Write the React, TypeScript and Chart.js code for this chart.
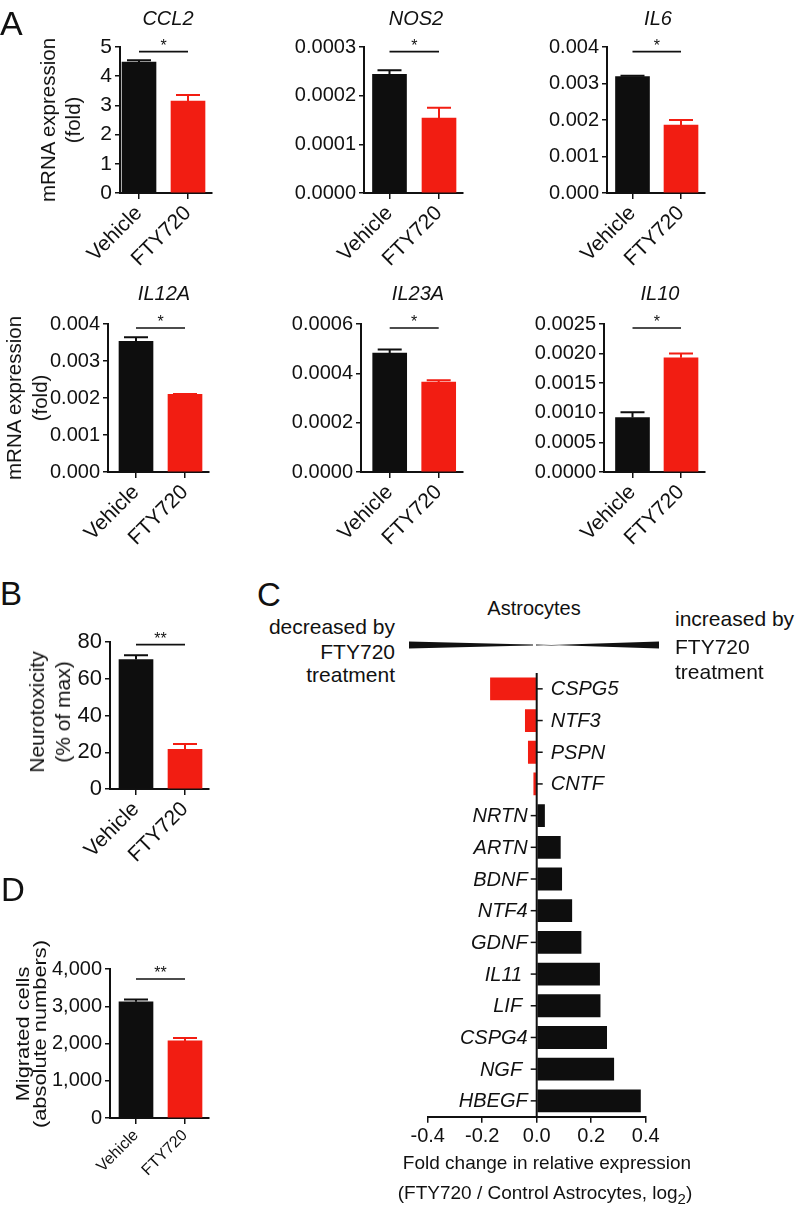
import React, { useEffect, useRef } from "react";
import { Chart, registerables } from "chart.js";
Chart.register(...registerables);

const FONT = "'Liberation Sans', Arial, Helvetica, sans-serif";
const INK = "#111111";
const BLACK = "#0e0e0e";
const RED = "#f21d12";
const COLORS = [BLACK, RED];

const GROUPS = ["Vehicle", "FTY720"];

// Panel A
const CCL2_MEAN = [4.48, 3.15];
const CCL2_SEM = [0.07, 0.21];
const CCL2_TICKS = [0, 1, 2, 3, 4, 5];
const NOS2_MEAN = [0.000244, 0.000154];
const NOS2_SEM = [0.000008, 0.000021];
const NOS2_TICKS = [0, 0.0001, 0.0002, 0.0003];
const IL6_MEAN = [0.00319, 0.00186];
const IL6_SEM = [0.00002, 0.00014];
const IL6_TICKS = [0, 0.001, 0.002, 0.003, 0.004];
const IL12A_MEAN = [0.00353, 0.0021];
const IL12A_SEM = [0.00011, 0.00001];
const IL12A_TICKS = [0, 0.001, 0.002, 0.003, 0.004];
const IL23A_MEAN = [0.000482, 0.000365];
const IL23A_SEM = [0.000015, 0.000007];
const IL23A_TICKS = [0, 0.0002, 0.0004, 0.0006];
const IL10_MEAN = [0.00092, 0.00193];
const IL10_SEM = [0.00009, 0.00007];
const IL10_TICKS = [0, 0.0005, 0.001, 0.0015, 0.002, 0.0025];
// Panel B
const NEURO_MEAN = [70.5, 21.6];
const NEURO_SEM = [2.3, 2.9];
const NEURO_TICKS = [0, 20, 40, 60, 80];
// Panel D
const MIGR_MEAN = [3118, 2070];
const MIGR_SEM = [65, 80];
const MIGR_TICKS = [0, 1000, 2000, 3000, 4000];
// Panel C
const GENES = ["CSPG5", "NTF3", "PSPN", "CNTF", "NRTN", "ARTN", "BDNF", "NTF4", "GDNF", "IL11 ", "LIF ", "CSPG4", "NGF ", "HBEGF"];
const LOG2FC = [-0.171, -0.043, -0.032, -0.012, 0.03, 0.088, 0.093, 0.13, 0.164, 0.232, 0.234, 0.258, 0.284, 0.382];
const FC_TICKS = [-0.4, -0.2, 0, 0.2, 0.4];

type BarProps = {
  axisX: number; right: number; topY: number; zeroY: number; c0: number; c1: number;
  means: number[]; sems: number[]; ticks: number[]; fmt: (v: number) => string;
  sig: string; sigFrac: number; xFont: number; tickFont?: number;
};

function SmallBar(p: BarProps) {
  const ref = useRef<HTMLCanvasElement>(null);
  const YW = 110, PT = 28, XH = 95, PR = 14;
  const left = p.axisX - YW;
  const top = p.topY - PT;
  const width = Math.round(YW + (p.right - p.axisX) + PR);
  const height = Math.round(PT + (p.zeroY - p.topY) + XH);
  useEffect(() => {
    const unit = p.c1 - p.c0;
    const xmin = -(p.c0 - p.axisX) / unit;
    const xmax = 1 + (p.right - p.c1) / unit;
    const ymax = p.ticks[p.ticks.length - 1];
    const plugin = {
      id: "errs",
      afterDatasetsDraw(chart: any) {
        const ctx = chart.ctx;
        const ys = chart.scales.y;
        const meta = chart.getDatasetMeta(0);
        ctx.save();
        meta.data.forEach((bar: any, i: number) => {
          const yt = ys.getPixelForValue(p.means[i] + p.sems[i]);
          ctx.strokeStyle = COLORS[i];
          ctx.lineWidth = 2;
          ctx.beginPath();
          ctx.moveTo(bar.x, bar.y);
          ctx.lineTo(bar.x, yt);
          ctx.moveTo(bar.x - 12, yt);
          ctx.lineTo(bar.x + 12, yt);
          ctx.stroke();
        });
        const ly = ys.getPixelForValue(ymax * p.sigFrac);
        const x0 = meta.data[0].x, x1 = meta.data[1].x;
        ctx.strokeStyle = INK;
        ctx.lineWidth = 1.6;
        ctx.beginPath();
        ctx.moveTo(x0, ly);
        ctx.lineTo(x1, ly);
        ctx.stroke();
        ctx.fillStyle = INK;
        ctx.font = `16px ${FONT}`;
        ctx.textAlign = "center";
        ctx.textBaseline = "alphabetic";
        ctx.fillText(p.sig, (x0 + x1) / 2, ly - 0.5);
        ctx.restore();
      },
    };
    const chart = new Chart(ref.current as HTMLCanvasElement, {
      type: "bar",
      data: {
        datasets: [{
          data: p.means.map((m, i) => ({ x: i, y: m })),
          backgroundColor: COLORS,
          borderWidth: 0,
          barThickness: 34,
        }],
      } as any,
      options: {
        responsive: false,
        animation: false,
        devicePixelRatio: 1,
        layout: { padding: { top: PT, right: PR, left: 0, bottom: 0 } },
        plugins: { legend: { display: false }, tooltip: { enabled: false } },
        scales: {
          x: {
            type: "linear", min: xmin, max: xmax, offset: false,
            grid: { display: true, drawOnChartArea: false, drawTicks: true, tickLength: 6, color: INK, lineWidth: 1.5, offset: false },
            border: { display: true, color: INK, width: 2 },
            afterBuildTicks: (s: any) => { s.ticks = GROUPS.map((_, i) => ({ value: i })); },
            afterFit: (s: any) => { s.height = XH; },
            ticks: {
              autoSkip: false, minRotation: 45, maxRotation: 45, color: INK,
              font: { family: FONT, size: p.xFont }, padding: 2,
              callback: (_v: any, i: number) => GROUPS[i],
            },
          },
          y: {
            type: "linear", min: 0, max: ymax,
            grid: { display: true, drawOnChartArea: false, drawTicks: true, tickLength: 5, color: INK, lineWidth: 1.5 },
            border: { display: true, color: INK, width: 2 },
            afterBuildTicks: (s: any) => { s.ticks = p.ticks.map((v) => ({ value: v })); },
            afterFit: (s: any) => { s.width = YW; },
            ticks: {
              autoSkip: false, color: INK, font: { family: FONT, size: p.tickFont ?? 20 }, padding: 3,
              callback: (v: any) => p.fmt(Number(v)),
            },
          },
        },
      } as any,
      plugins: [plugin],
    });
    return () => chart.destroy();
  }, []);
  return <canvas ref={ref} width={width} height={height} style={{ position: "absolute", left, top, width, height }} />;
}

function FoldChart() {
  const ref = useRef<HTMLCanvasElement>(null);
  const L = 400, T = 663, W = 290, H = 494;
  const areaLeft = 427.7 - L, areaRight = 645.7 - L, areaTop = 673 - T, areaBottom = 1116.7 - T;
  useEffect(() => {
    const plugin = {
      id: "centerAxis",
      afterDatasetsDraw(chart: any) {
        const ctx = chart.ctx;
        const xs = chart.scales.x, ys = chart.scales.y, ca = chart.chartArea;
        const x0 = xs.getPixelForValue(0);
        ctx.save();
        ctx.strokeStyle = INK;
        ctx.lineWidth = 2;
        ctx.beginPath();
        ctx.moveTo(x0, ca.top);
        ctx.lineTo(x0, ca.bottom);
        ctx.stroke();
        ctx.lineWidth = 1.5;
        ctx.font = `italic 20px ${FONT}`;
        ctx.fillStyle = INK;
        ctx.textBaseline = "middle";
        GENES.forEach((g, i) => {
          const y = ys.getPixelForValue(i);
          const neg = LOG2FC[i] < 0;
          ctx.beginPath();
          if (neg) { ctx.moveTo(x0, y); ctx.lineTo(x0 + 6, y); } else { ctx.moveTo(x0 - 6, y); ctx.lineTo(x0, y); }
          ctx.stroke();
          ctx.textAlign = neg ? "left" : "right";
          ctx.fillText(g, neg ? x0 + 14 : x0 - 9, y + 1);
        });
        ctx.restore();
      },
    };
    const chart = new Chart(ref.current as HTMLCanvasElement, {
      type: "bar",
      data: {
        labels: GENES,
        datasets: [{
          data: LOG2FC,
          backgroundColor: LOG2FC.map((v) => (v < 0 ? RED : BLACK)),
          borderWidth: 0,
          barPercentage: 0.72,
          categoryPercentage: 1,
        }],
      },
      options: {
        indexAxis: "y",
        responsive: false,
        animation: false,
        devicePixelRatio: 1,
        layout: { padding: { left: areaLeft, right: W - areaRight, top: areaTop, bottom: 0 } },
        plugins: { legend: { display: false }, tooltip: { enabled: false } },
        scales: {
          x: {
            type: "linear", min: -0.4, max: 0.4, position: "bottom",
            grid: { display: true, drawOnChartArea: false, drawTicks: true, tickLength: 6, color: INK, lineWidth: 1.5 },
            border: { display: true, color: INK, width: 2 },
            afterBuildTicks: (s: any) => { s.ticks = FC_TICKS.map((v) => ({ value: v })); },
            afterFit: (s: any) => { s.height = H - areaBottom; },
            ticks: {
              autoSkip: false, maxRotation: 0, color: INK, font: { family: FONT, size: 20 }, padding: 2,
              callback: (v: any) => Number(v).toFixed(1),
            },
          },
          y: { type: "category", display: false, offset: true },
        },
      } as any,
      plugins: [plugin],
    });
    return () => chart.destroy();
  }, []);
  return <canvas ref={ref} width={W} height={H} style={{ position: "absolute", left: L, top: T, width: W, height: H }} />;
}

function Txt(props: { x: number; y: number; size?: number; align?: "left" | "center" | "right"; italic?: boolean; children: any }) {
  const size = props.size ?? 20;
  const align = props.align ?? "center";
  const style: any = {
    position: "absolute",
    top: props.y - 0.8465 * size,
    fontSize: size,
    lineHeight: size + "px",
    fontFamily: FONT,
    fontStyle: props.italic ? "italic" : "normal",
    whiteSpace: "nowrap",
    color: INK,
  };
  if (align === "center") { style.left = props.x; style.transform = "translateX(-50%)"; }
  else if (align === "left") { style.left = props.x; }
  else { style.right = 796 - props.x; }
  return <div style={style}>{props.children}</div>;
}

function RotTitle(props: { cx: number; cy: number; lines: string[]; size: number; lh: number; sx?: number }) {
  return (
    <div
      style={{
        position: "absolute", left: props.cx, top: props.cy,
        transform: `translate(-50%, -50%) rotate(-90deg) scaleX(${props.sx ?? 1})`,
        fontFamily: FONT, fontSize: props.size, lineHeight: props.lh + "px",
        textAlign: "center", whiteSpace: "nowrap", color: INK,
      }}
    >
      {props.lines.map((l, i) => (<div key={i}>{l}</div>))}
    </div>
  );
}

const f4 = (v: number) => v.toFixed(4);
const f3 = (v: number) => v.toFixed(3);
const f0 = (v: number) => String(v);
const fc = (v: number) => v.toLocaleString("en-US");

export default function App() {
  return (
    <div style={{ position: "absolute", left: 0, top: 0, width: 796, height: 1215, background: "#fff", overflow: "hidden" }}>
      {/* Panel A row 1 */}
      <SmallBar axisX={120} right={212} topY={47} zeroY={193} c0={139} c1={188} means={CCL2_MEAN} sems={CCL2_SEM} ticks={CCL2_TICKS} fmt={f0} sig="*" sigFrac={0.968} xFont={21} tickFont={21} />
      <SmallBar axisX={364} right={463} topY={47} zeroY={193} c0={389.5} c1={439} means={NOS2_MEAN} sems={NOS2_SEM} ticks={NOS2_TICKS} fmt={f4} sig="*" sigFrac={0.968} xFont={21} />
      <SmallBar axisX={607} right={705} topY={47} zeroY={193} c0={632.5} c1={681} means={IL6_MEAN} sems={IL6_SEM} ticks={IL6_TICKS} fmt={f3} sig="*" sigFrac={0.968} xFont={21} />
      {/* Panel A row 2 */}
      <SmallBar axisX={108} right={209} topY={324} zeroY={472} c0={136} c1={185} means={IL12A_MEAN} sems={IL12A_SEM} ticks={IL12A_TICKS} fmt={f3} sig="*" sigFrac={0.973} xFont={21} />
      <SmallBar axisX={361} right={463} topY={324} zeroY={472} c0={389.7} c1={438.7} means={IL23A_MEAN} sems={IL23A_SEM} ticks={IL23A_TICKS} fmt={f4} sig="*" sigFrac={0.973} xFont={21} />
      <SmallBar axisX={604} right={705} topY={324} zeroY={472} c0={632.5} c1={681} means={IL10_MEAN} sems={IL10_SEM} ticks={IL10_TICKS} fmt={f4} sig="*" sigFrac={0.973} xFont={21} />
      {/* Panel B */}
      <SmallBar axisX={110} right={209} topY={641.7} zeroY={789} c0={136} c1={185} means={NEURO_MEAN} sems={NEURO_SEM} ticks={NEURO_TICKS} fmt={f0} sig="**" sigFrac={0.982} xFont={21} tickFont={22} />
      {/* Panel D */}
      <SmallBar axisX={110} right={209} topY={969} zeroY={1117.7} c0={136} c1={185} means={MIGR_MEAN} sems={MIGR_SEM} ticks={MIGR_TICKS} fmt={fc} sig="**" sigFrac={0.933} xFont={16} />
      {/* Panel C */}
      <FoldChart />

      {/* Panel letters */}
      <Txt x={0} y={35} size={34} align="left">A</Txt>
      <Txt x={0} y={605} size={33} align="left">B</Txt>
      <Txt x={257} y={606} size={33} align="left">C</Txt>
      <Txt x={1} y={901} size={33} align="left">D</Txt>

      {/* Gene titles */}
      <Txt x={168} y={25} italic>CCL2</Txt>
      <Txt x={416} y={25} italic>NOS2</Txt>
      <Txt x={658} y={25} italic>IL6</Txt>
      <Txt x={164} y={300} italic>IL12A</Txt>
      <Txt x={418} y={300} italic>IL23A</Txt>
      <Txt x={660} y={300} italic>IL10</Txt>

      {/* Y titles */}
      <RotTitle cx={59.5} cy={120} lines={["mRNA expression", "(fold)"]} size={20.5} lh={25} />
      <RotTitle cx={27} cy={398} lines={["mRNA expression", "(fold)"]} size={20.5} lh={26} />
      <RotTitle cx={50} cy={712} lines={["Neurotoxicity", "(% of max)"]} size={21} lh={26} />
      <RotTitle cx={31} cy={1034} lines={["Migrated cells", "(absolute numbers)"]} size={18.5} lh={17} sx={1.18} />

      {/* Panel C header */}
      <Txt x={534} y={615}>Astrocytes</Txt>
      <Txt x={395} y={634} size={21} align="right">decreased by</Txt>
      <Txt x={395} y={659} size={21} align="right">FTY720</Txt>
      <Txt x={395} y={682} size={21} align="right">treatment</Txt>
      <Txt x={675} y={626} size={21} align="left">increased by</Txt>
      <Txt x={675} y={654} size={21} align="left">FTY720</Txt>
      <Txt x={675} y={679} size={21} align="left">treatment</Txt>
      <svg style={{ position: "absolute", left: 0, top: 0 }} width={796} height={1215}>
        <polygon points="409,641.5 409,648.5 533,645.4 533,644.6" fill={INK} />
        <polygon points="536,644.6 536,645.4 659,641.5 659,648.5" fill={INK} />
      </svg>

      {/* Panel C x title */}
      <Txt x={547} y={1169} size={19}>Fold change in relative expression</Txt>
      <Txt x={545} y={1199} size={19}>
        (FTY720 / Control Astrocytes, log<sub style={{ fontSize: 15, verticalAlign: "-5px", lineHeight: 0 }}>2</sub>)
      </Txt>
    </div>
  );
}
